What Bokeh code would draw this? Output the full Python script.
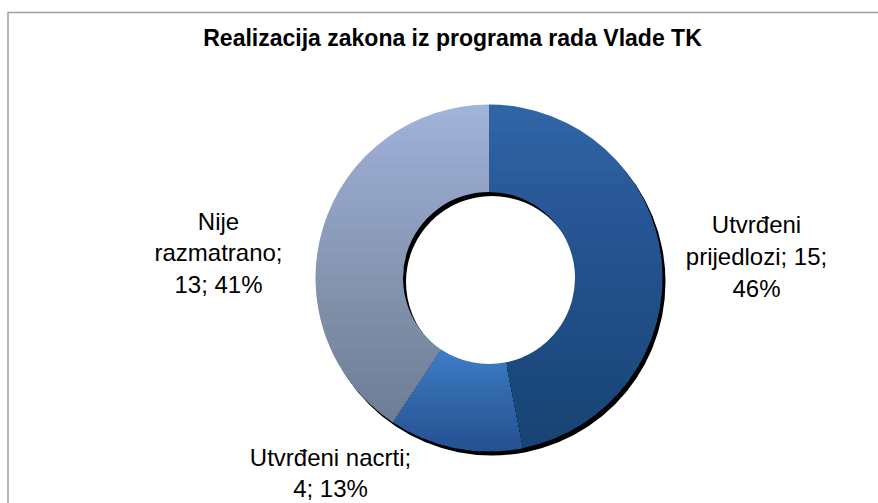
import numpy as np
from bokeh.plotting import figure
from bokeh.models import Range1d, ColumnDataSource
from bokeh.core.properties import value
from bokeh.embed import file_html
from bokeh.resources import INLINE

# ---------------- data ----------------
title_text = "Realizacija zakona iz programa rada Vlade TK"
categories = ["Utvrđeni prijedlozi", "Utvrđeni nacrti", "Nije razmatrano"]
counts = [15, 4, 13]
pct_labels = ["46%", "13%", "41%"]

# ---------------- styles / layout ----------------
top_colors = ["#3065a5", "#3c7cc8", "#a0b3d9"]
bottom_ratio = [0.78, 0.80, 0.78]          # darkening at the bottom of each slice
W, H = 878, 503
CX, CY = 488.5, H - 277.5
R_OUT, R_IN = 173.5, 86.0
SH_DX, SH_DY = 3.0, -4.0
FONT = "Liberation Sans"
label_pos = [(756, H - 256), (330, H - 472.5), (218, H - 252.5)]
label_wrap = [True, False, True]

p = figure(width=W, height=H, x_range=Range1d(0, W), y_range=Range1d(0, H),
           output_backend="svg", toolbar_location=None, min_border=0,
           x_axis_type=None, y_axis_type=None)
p.grid.visible = False
p.outline_line_color = None
p.background_fill_color = "white"
p.border_fill_color = "white"

# chart frame (left and top edges visible)
p.line([7.5, 7.5, W], [0, H - 12, H - 12], line_color="#a0a0a0", line_width=1.5)

# angles (clockwise from top, Excel style)
total = float(sum(counts))
cum = np.cumsum([0] + counts) / total * 2 * np.pi
start_cw, end_cw = cum[:-1], cum[1:]
start_ang = np.pi / 2 - end_cw
end_ang = np.pi / 2 - start_cw

# shadow
p.annulus(x=[CX + SH_DX], y=[CY + SH_DY], inner_radius=R_IN, outer_radius=R_OUT,
          fill_color="black", line_color=None)

# slices
src = ColumnDataSource(dict(start=start_ang, end=end_ang, color=top_colors, name=categories, count=counts))
p.annular_wedge(x=CX, y=CY, inner_radius=R_IN, outer_radius=R_OUT,
                start_angle="start", end_angle="end", fill_color="color",
                line_color=None, source=src)

# vertical gradient on each slice (stacked translucent layers)
def sector_poly(a0, a1, n=160):
    t = np.linspace(a0, a1, n)
    xs = np.concatenate([CX + R_OUT * np.cos(t), CX + R_IN * np.cos(t[::-1])])
    ys = np.concatenate([CY + R_OUT * np.sin(t), CY + R_IN * np.sin(t[::-1])])
    return xs, ys

def clip_below(xs, ys, h):
    ox, oy = [], []
    n = len(xs)
    for i in range(n):
        x1, y1 = xs[i - 1], ys[i - 1]
        x2, y2 = xs[i], ys[i]
        in1, in2 = y1 <= h, y2 <= h
        if in1 != in2:
            t = (h - y1) / (y2 - y1)
            ox.append(x1 + t * (x2 - x1)); oy.append(h)
        if in2:
            ox.append(x2); oy.append(y2)
    return ox, oy

STEP_A = 0.01
gx, gy, ga = [], [], []
for i in range(len(counts)):
    sx, sy = sector_poly(start_ang[i], end_ang[i])
    ymin, ymax = sy.min(), sy.max()
    nl = int(round(np.log(bottom_ratio[i]) / np.log(1 - STEP_A)))
    for k in range(1, nl + 1):
        h = ymax - k / (nl + 1) * (ymax - ymin)
        cx_, cy_ = clip_below(sx, sy, h)
        if len(cx_) >= 3:
            gx.append(cx_); gy.append(cy_); ga.append(STEP_A)
p.patches(xs="xs", ys="ys", fill_alpha="a", fill_color="black", line_color=None,
          source=ColumnDataSource(dict(xs=gx, ys=gy, a=ga)))

# data labels
label_texts = []
for i in range(len(counts)):
    if label_wrap[i] and i == 0:
        label_texts.append(f"{categories[i].replace(' ', chr(10))}; {counts[i]};\n{pct_labels[i]}")
    elif label_wrap[i]:
        label_texts.append(f"{categories[i].replace(' ', chr(10))};\n{counts[i]}; {pct_labels[i]}")
    else:
        label_texts.append(f"{categories[i]};\n{counts[i]}; {pct_labels[i]}")
p.text(x=[q[0] for q in label_pos], y=[q[1] for q in label_pos], text=label_texts,
       text_font=value(FONT), text_font_size="24px", text_align="center",
       text_baseline="middle", text_line_height=1.17, text_color="black")

# title
p.text(x=[452], y=[H - 37], text=[title_text], text_font=value(FONT),
       text_font_size="23px", text_font_style="bold", text_align="center",
       text_baseline="middle", text_color="black")

open("out.html", "w").write(file_html(p, INLINE))
